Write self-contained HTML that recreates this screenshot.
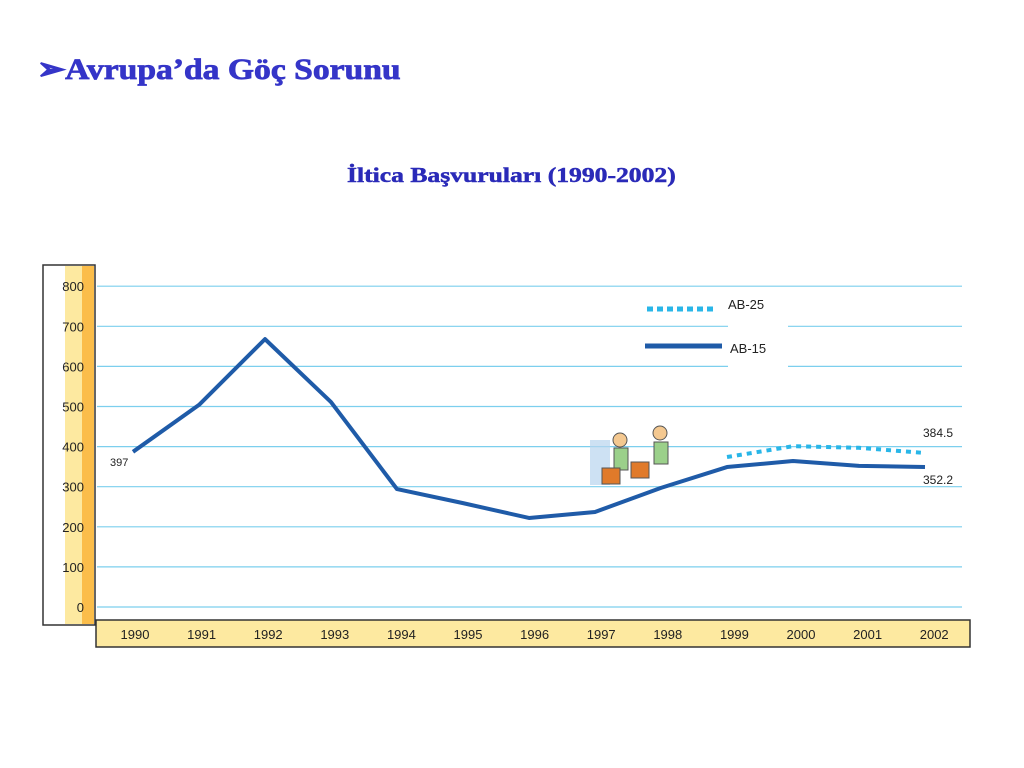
<!DOCTYPE html>
<html><head><meta charset="utf-8"><style>
body{margin:0;width:1024px;height:768px;background:#fff;overflow:hidden;font-family:"Liberation Serif",serif}
svg{position:absolute;left:0;top:0}
.t{position:absolute;font-family:"Liberation Serif","DejaVu Serif",serif;font-weight:700;white-space:nowrap;transform-origin:0 0}
</style></head><body>
<svg width="1024" height="768" id="chart">
<rect x="43" y="265" width="52" height="360" fill="#fff" stroke="#333" stroke-width="1.5"/>
<rect x="65" y="266" width="17" height="358" fill="#fde9a0"/>
<rect x="82" y="266" width="12" height="358" fill="#fbbd4a"/>
<rect x="96" y="620" width="874" height="27" fill="#fde9a0" stroke="#333" stroke-width="1.5"/>
<g id="grid"></g><g id="lines"></g><g id="labels"></g>
<rect x="728" y="318" width="60" height="50" fill="#fff"/>
<line x1="647" y1="309" x2="716" y2="309" stroke="#29b6e8" stroke-width="5" stroke-dasharray="6,4"/>
<text x="728" y="309" font-size="13" font-family="Liberation Sans, sans-serif" fill="#222">AB-25</text>
<line x1="645" y1="346" x2="722" y2="346" stroke="#1f5ba8" stroke-width="5"/>
<text x="730" y="353" font-size="13" font-family="Liberation Sans, sans-serif" fill="#222">AB-15</text>
<text x="110" y="466" font-size="11" font-family="Liberation Sans, sans-serif" fill="#222">397</text>
<text x="923" y="437" font-size="12" font-family="Liberation Sans, sans-serif" fill="#222">384.5</text>
<text x="923" y="484" font-size="12" font-family="Liberation Sans, sans-serif" fill="#222">352.2</text>
<g>
<rect x="590" y="440" width="20" height="45" fill="#b8d4ee" opacity="0.7"/>
<circle cx="620" cy="440" r="7" fill="#f4c890" stroke="#555"/>
<rect x="614" y="448" width="14" height="22" fill="#9bd08a" stroke="#555"/>
<rect x="602" y="468" width="18" height="16" fill="#e07a2a" stroke="#555"/>
<rect x="631" y="462" width="18" height="16" fill="#e07a2a" stroke="#555"/>
<circle cx="660" cy="433" r="7" fill="#f4c890" stroke="#555"/>
<rect x="654" y="442" width="14" height="22" fill="#9bd08a" stroke="#555"/>
</g>
</svg>
<div class="t" style="left:37px;top:52px;font-size:30px;color:#3535c8;transform:scaleX(1.12);-webkit-text-stroke:0.8px #3535c8">➢Avrupa’da Göç Sorunu</div>
<div class="t" style="left:347px;top:163px;font-size:21px;color:#2a2ab8;transform:scaleX(1.22);-webkit-text-stroke:0.5px #2a2ab8">İltica Başvuruları (1990-2002)</div>
<script>
const years=["1990","1991","1992","1993","1994","1995","1996","1997","1998","1999","2000","2001","2002"];
const yTicks=[0,100,200,300,400,500,600,700,800];
const ab15=[387,504,668,511,294,259,222,237,297,349,364,352,349];
const ab25Years=["1999","2000","2001","2002"];
const ab25=[374,401,397,384];
const NS="http://www.w3.org/2000/svg";
const yS=v=>607-v*0.401;
const xS=i=>133+i*66;
const xL=i=>135+i*66.6;
function mk(t,a,p){const e=document.createElementNS(NS,t);for(const k in a)e.setAttribute(k,a[k]);p.appendChild(e);return e;}
const grid=document.getElementById('grid'),lines=document.getElementById('lines'),labels=document.getElementById('labels');
yTicks.forEach(v=>{
 const l=mk('line',{x1:97,x2:962,y1:yS(v),y2:yS(v),stroke:'#7ccfee','stroke-width':1.2},grid);
 
 
 const t=mk('text',{x:84,y:yS(v)+5,'text-anchor':'end','font-size':13,'font-family':'Liberation Sans Narrow, Liberation Sans, sans-serif',fill:'#222'},labels);
 t.textContent=v;
 
 
});
years.forEach((y,i)=>{
 const t=mk('text',{x:xL(i),y:639,'text-anchor':'middle','font-size':13,'font-family':'Liberation Sans, sans-serif',fill:'#222'},labels);
 t.textContent=y;
 
 
});
const p15=mk('polyline',{points:ab15.map((v,i)=>xS(i)+','+yS(v)).join(' '),fill:'none',stroke:'#1f5ba8','stroke-width':4,'stroke-linejoin':'round'},lines);


const p25=mk('polyline',{points:ab25.map((v,i)=>xS(years.indexOf(ab25Years[i]))+','+yS(v)).join(' '),fill:'none',stroke:'#29b6e8','stroke-width':4,'stroke-dasharray':'5,5'},lines);


</script>
</body></html>
